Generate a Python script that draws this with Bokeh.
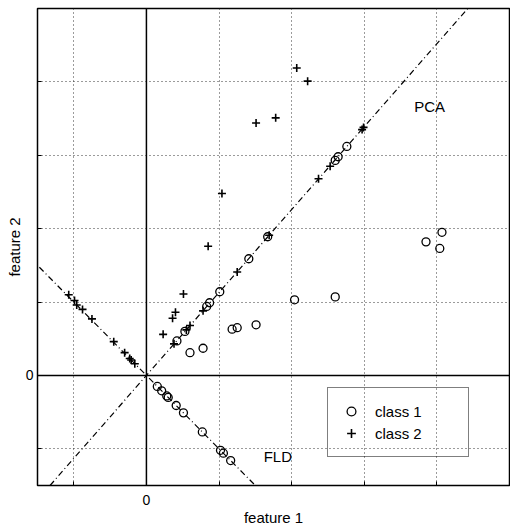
from bokeh.plotting import figure
from bokeh.models import (Range1d, FixedTicker, CustomJSTickFormatter, Span, Slope,
                          Label, Legend, LegendItem)
from bokeh.embed import file_html
from bokeh.resources import INLINE

# ---- data ----
class1_x = [0.60, 0.78, 1.18, 1.25, 1.51, 2.04, 2.60, 3.85, 4.07, 4.04]
class1_y = [0.31, 0.37, 0.63, 0.65, 0.69, 1.03, 1.07, 1.82, 1.95, 1.73]

class2_x = [2.07, 2.22, 1.51, 1.78, 1.04, 0.85, 0.51, 0.40, 0.36, 0.23]
class2_y = [4.19, 4.01, 3.44, 3.51, 2.48, 1.76, 1.11, 0.86, 0.78, 0.56]

# projections onto the PCA direction
class1_pca_x = [0.42, 0.53, 0.83, 0.87, 1.01, 1.41, 1.67, 2.60, 2.76, 2.64]
class1_pca_y = [0.47, 0.60, 0.94, 0.99, 1.14, 1.59, 1.89, 2.93, 3.12, 2.98]
class2_pca_x = [2.99, 2.97, 2.37, 2.53, 1.69, 1.25, 0.78, 0.60, 0.55, 0.38]
class2_pca_y = [3.38, 3.35, 2.68, 2.85, 1.91, 1.41, 0.88, 0.68, 0.62, 0.43]

# projections onto the FLD direction
class1_fld_x = [0.15, 0.21, 0.28, 0.30, 0.41, 0.51, 0.77, 1.02, 1.06, 1.16]
class1_fld_y = [-0.15, -0.21, -0.28, -0.30, -0.41, -0.51, -0.77, -1.02, -1.06, -1.16]
class2_fld_x = [-1.07, -0.96, -0.99, -0.88, -0.75, -0.45, -0.30, -0.23, -0.21, -0.16]
class2_fld_y = [1.10, 0.96, 1.02, 0.90, 0.77, 0.46, 0.31, 0.23, 0.21, 0.16]

pca_slope = 1.13
fld_slope = -1.0

ticks = [-1, 0, 1, 2, 3, 4]
x_range = (-1.5, 5.0)
y_range = (-1.5, 5.0)

FONT = "Liberation Sans"

p = figure(width=510, height=528, output_backend="svg", toolbar_location=None,
           x_range=Range1d(*x_range), y_range=Range1d(*y_range),
           min_border_left=37, min_border_right=1, min_border_top=8,
           min_border_bottom=43)
p.background_fill_color = "white"
p.border_fill_color = "white"
p.outline_line_color = "black"
p.outline_line_width = 1.5

for ax in (p.xaxis[0], p.yaxis[0]):
    ax.ticker = FixedTicker(ticks=ticks)
    ax.formatter = CustomJSTickFormatter(code="return tick == 0 ? '0' : '';")
    ax.major_tick_in = 4
    ax.major_tick_out = 0
    ax.minor_tick_line_color = None
    ax.axis_line_color = "black"
    ax.major_tick_line_color = "black"
    ax.major_label_text_font = FONT
    ax.major_label_text_font_size = "14px"
    ax.major_label_text_color = "black"
    ax.axis_label_text_font = FONT
    ax.axis_label_text_font_size = "15px"
    ax.axis_label_text_font_style = "normal"
    ax.axis_label_text_color = "black"

p.xaxis.axis_label = "feature 1"
p.yaxis.axis_label = "feature 2"
p.xaxis.major_label_standoff = 9
p.xaxis.axis_label_standoff = 1
p.yaxis.major_label_standoff = 4
p.yaxis.axis_label_standoff = 0

for g in (p.xgrid[0], p.ygrid[0]):
    g.ticker = FixedTicker(ticks=ticks)
    g.grid_line_color = "#222222"
    g.grid_line_dash = "1 3"
    g.grid_line_width = 1
    g.grid_line_alpha = 0.9

# solid zero axes
p.add_layout(Span(location=0, dimension="height", line_color="black", line_width=1.5))
p.add_layout(Span(location=0, dimension="width", line_color="black", line_width=1.5))

# PCA and FLD directions
p.add_layout(Slope(gradient=pca_slope, y_intercept=0, line_color="black",
                   line_width=1.2, line_dash="6 3 1 3"))
p.add_layout(Slope(gradient=fld_slope, y_intercept=0, line_color="black",
                   line_width=1.2, line_dash="6 3 1 3"))

circ = dict(marker="circle", size=8, line_color="black", line_width=1.3, fill_color=None)
plus = dict(marker="cross", size=8, line_color="black", line_width=1.6)

r1 = p.scatter(class1_x, class1_y, **circ)
p.scatter(class1_pca_x, class1_pca_y, **circ)
p.scatter(class1_fld_x, class1_fld_y, **circ)
r2 = p.scatter(class2_x, class2_y, **plus)
p.scatter(class2_pca_x, class2_pca_y, **plus)
p.scatter(class2_fld_x, class2_fld_y, **plus)

p.add_layout(Label(x=3.9, y=3.66, text="PCA", text_align="center", text_baseline="middle",
                   text_font=FONT, text_font_size="15px", text_color="black"))
p.add_layout(Label(x=1.81, y=-1.10, text="FLD", text_align="center", text_baseline="middle",
                   text_font=FONT, text_font_size="15px", text_color="black"))

legend = Legend(items=[LegendItem(label="class 1", renderers=[r1]),
                       LegendItem(label="class 2", renderers=[r2])],
                location=(290, 28), margin=0, padding=12, spacing=0,
                glyph_width=22, glyph_height=22, label_height=22, label_width=81,
                label_standoff=13, label_text_font=FONT, label_text_font_size="15px",
                label_text_color="black", border_line_color="black", border_line_width=1,
                background_fill_alpha=0.0)
p.add_layout(legend, "center")

open("out.html", "w").write(file_html(p, INLINE))
